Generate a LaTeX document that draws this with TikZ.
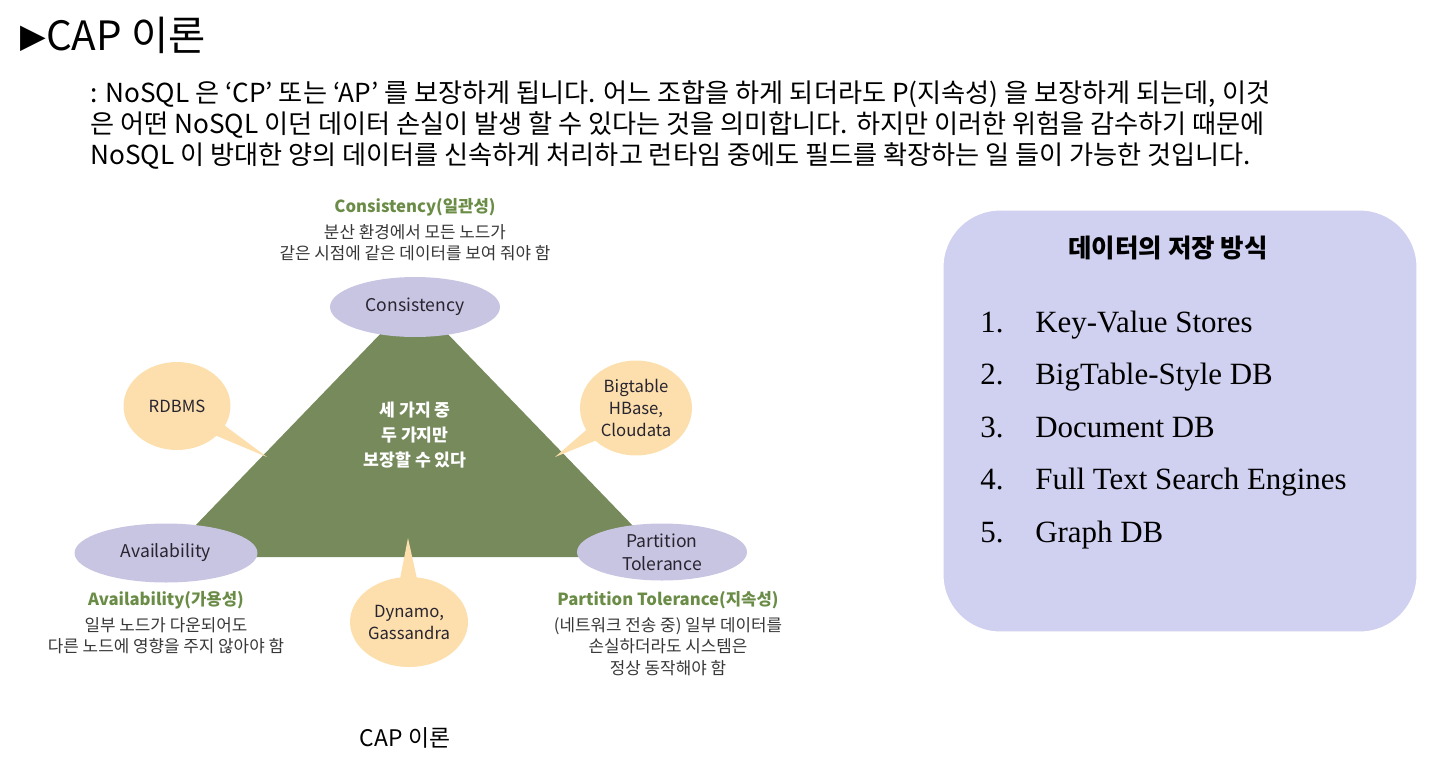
\documentclass[tikz,border=0pt]{standalone}
\usepackage{fontspec}
\setmainfont{Noto Sans CJK KR}
\newfontfamily\listfont{Liberation Serif}
\newfontfamily\symfont{DejaVu Sans}
\usepackage{xcolor}
\usetikzlibrary{shapes.geometric,shapes.callouts,shadows,positioning}

\definecolor{triGreen}{RGB}{118,138,92}
\definecolor{capGreen}{RGB}{106,140,70}
\definecolor{ellLav}{RGB}{200,197,226}
\definecolor{bubPeach}{RGB}{252,223,172}
\definecolor{boxLav}{RGB}{208,208,240}
\definecolor{txtDark}{RGB}{40,36,48}
\definecolor{txtGray}{RGB}{55,55,55}

\begin{document}
\begin{tikzpicture}[x=0.02cm, y=-0.02cm,
  prop/.style={ellipse, fill=ellLav, text=txtDark, inner sep=0pt, align=center,
    font=\fontsize{10}{13}\selectfont},
  bubble/.style={ellipse callout, fill=bubPeach, text=txtDark, inner sep=0pt, align=center,
    callout pointer arc=16, font=\fontsize{9.5}{12.5}\selectfont},
  capname/.style={text=capGreen, font=\fontsize{9.5}{12}\selectfont\bfseries},
  capdesc/.style={text=txtGray, align=center, inner sep=1pt, font=\fontsize{9.6}{12.4}\selectfont},
  para/.style={anchor=west, inner sep=0pt, font=\fontsize{14.9}{17}\selectfont},
  listbox/.style={rounded corners=1.2cm, fill=boxLav, draw=white, line width=4pt,
    drop shadow={shadow xshift=0.8pt, shadow yshift=-1.2pt, fill=black!40, opacity=.45}},
  listitem/.style={anchor=base west, inner sep=0pt, font=\fontsize{17.6}{20}\selectfont\listfont}
]
\useasboundingbox (0,0) rectangle (1447,775);

% Heading and description
\node[anchor=west, inner sep=0pt, font=\fontsize{23}{26}\selectfont] (title) at (20,35)
  {\raisebox{1.5pt}{\symfont\fontsize{19}{22}\selectfont ▶}CAP 이론};
\node[para] (line1) at (90,94) {: NoSQL 은 ‘CP’ 또는 ‘AP’ 를 보장하게 됩니다. 어느 조합을 하게 되더라도 P(지속성) 을 보장하게 되는데, 이것};
\node[para] (line2) at (90,125) {은 어떤 NoSQL 이던 데이터 손실이 발생 할 수 있다는 것을 의미합니다. 하지만 이러한 위험을 감수하기 때문에};
\node[para] (line3) at (90,156) {NoSQL 이 방대한 양의 데이터를 신속하게 처리하고 런타임 중에도 필드를 확장하는 일 들이 가능한 것입니다.};

% CAP triangle
\coordinate (apex) at (414,299);
\coordinate (baseL) at (165,557);
\coordinate (baseR) at (663,557);
\fill[triGreen] (apex) -- (baseL) -- (baseR) -- cycle;
\node[text=white, align=center, font=\fontsize{9.8}{14}\selectfont\bfseries] (core) at (415,435)
  {세 가지 중\\두 가지만\\보장할 수 있다};

% Pointer tips of the bubbles
\coordinate (tipR) at (267,457);
\coordinate (tipB) at (555,457);
\coordinate (tipD) at (408,538);

\node[bubble, minimum width=2.14cm, minimum height=1.76cm, callout absolute pointer={(tipR)}]
  (rdbms) at (177,406) {RDBMS};
\node[bubble, minimum width=2.24cm, minimum height=1.9cm, callout absolute pointer={(tipB)}]
  (bigtable) at (636,408) {Bigtable\\HBase,\\Cloudata};
\node[bubble, minimum width=2.36cm, minimum height=1.8cm, callout absolute pointer={(tipD)}]
  (dynamo) at (409,622) {Dynamo,\\Gassandra};

% Properties
\node[prop, minimum width=3.4cm, minimum height=1.2cm] (cons) at (415,307) {Consistency};
\node[prop, minimum width=3.66cm, minimum height=1.18cm] (avail) at (166,553) {Availability};
\node[prop, minimum width=3.4cm, minimum height=1.14cm] (part) at (662,552) {Partition\\Tolerance};

% Property captions
\node[capname] (consName) at (415,207) {Consistency(일관성)};
\node[capdesc, below=0pt of consName] (consDesc) {분산 환경에서 모든 노드가\\같은 시점에 같은 데이터를 보여 줘야 함};
\node[capname] (availName) at (166,600) {Availability(가용성)};
\node[capdesc, below=0pt of availName] (availDesc) {일부 노드가 다운되어도\\다른 노드에 영향을 주지 않아야 함};
\node[capname] (partName) at (668,600) {Partition Tolerance(지속성)};
\node[capdesc, below=0pt of partName] (partDesc) {(네트워크 전송 중) 일부 데이터를\\손실하더라도 시스템은\\정상 동작해야 함};

\node[font=\fontsize{13}{16}\selectfont] (caption) at (405,738) {CAP 이론};

% Storage types box
\node[listbox, minimum width=9.6cm, minimum height=8.56cm] (store) at (1180,421) {};
\node[font=\fontsize{14.5}{17}\selectfont\bfseries] (storeTitle) at (1168,248) {데이터의 저장 방식};
\foreach \i/\t in {1/Key-Value Stores, 2/BigTable-Style DB, 3/Document DB,
                   4/Full Text Search Engines, 5/Graph DB}{
  \pgfmathsetmacro{\yy}{332+(\i-1)*52.5}
  \node[listitem] (num\i) at (980,\yy) {\i.};
  \node[listitem] (item\i) at (1035,\yy) {\t};
}
\end{tikzpicture}
\end{document}
